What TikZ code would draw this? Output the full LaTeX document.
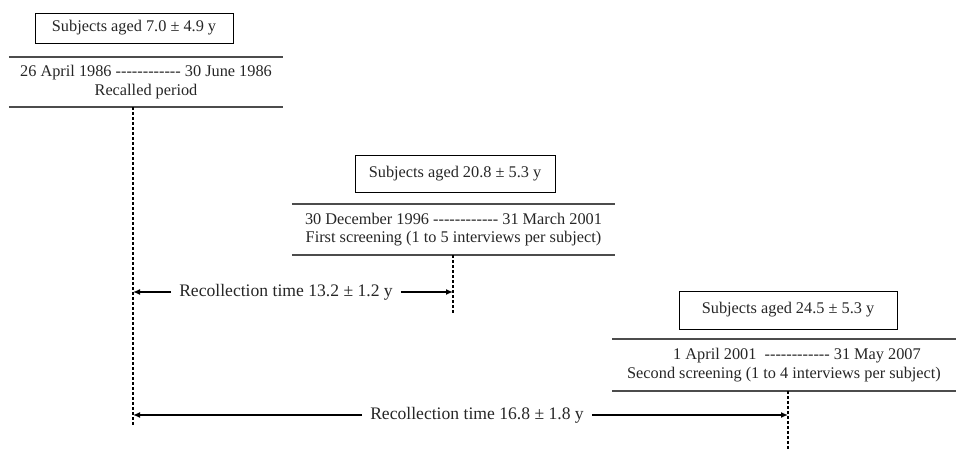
\documentclass[tikz,border=0pt]{standalone}
\usepackage{fontspec}
\setmainfont{Liberation Serif}
\usetikzlibrary{arrows.meta}
\newcommand{\dashrun}{\foreach \i in {1,...,12}{-\kern0pt}}
\begin{document}
\begin{tikzpicture}[x=1pt,y=-1pt,
    every node/.style={font=\fontsize{16.3}{18.5}\selectfont, text=black!85},
    agebox/.style={draw, line width=0.9pt, minimum height=30, inner sep=0},
    period/.style={align=center, minimum height=50, inner sep=0},
    rule/.style={line width=1.6pt, black!70},
    guide/.style={dash pattern=on 3pt off 2pt, line width=1.5pt},
    span/.style={-{Latex[length=7pt,width=6pt]}, line width=1.6pt},
    gaplabel/.style={font=\fontsize{17.6}{20}\selectfont, inner xsep=8, inner ysep=2}]
        \useasboundingbox (0,0) rectangle (956,454);

        % recalled period
        \node[agebox, minimum width=198] (age1) at (134,28) {Subjects aged 7.0 ± 4.9 y};
        \node[period, minimum width=274] (recall) at (146,82)
            {26 April 1986 \dashrun{} 30 June 1986\\Recalled period};
        \draw[rule] (recall.north west) -- (recall.north east);
        \draw[rule] (recall.south west) -- (recall.south east);
        \coordinate (t0) at (133,427);
        \draw[guide] (recall.south -| t0) -- (t0);

        % first screening
        \node[agebox, minimum width=200, minimum height=37] (age2) at (455,173.5) {Subjects aged 20.8 ± 5.3 y};
        \node[period, minimum width=323, minimum height=51] (first) at (453.5,229.5)
            {30 December 1996 \dashrun{} 31 March 2001\\First screening (1 to 5 interviews per subject)};
        \draw[rule] (first.north west) -- (first.north east);
        \draw[rule] (first.south west) -- (first.south east);
        \coordinate (t1) at (453,315);
        \draw[guide] (first.south -| t1) -- (t1);

        % second screening
        \node[agebox, minimum width=218, minimum height=38] (age3) at (788,310) {Subjects aged 24.5 ± 5.3 y};
        \node[period, minimum width=343, minimum height=52] (second) at (784,365)
            {\hspace*{26pt}1 April 2001\ \ \dashrun{} 31 May 2007\\Second screening (1 to 4 interviews per subject)};
        \draw[rule] (second.north west) -- (second.north east);
        \draw[rule] (second.south west) -- (second.south east);
        \coordinate (t2) at (788,450);
        \draw[guide] (second.south -| t2) -- (t2);

        % recollection times
        \node[gaplabel] (gap1) at (286,292) {Recollection time 13.2 ± 1.2 y};
        \draw[span] (gap1.west) -- (gap1.west -| t0);
        \draw[span] (gap1.east) -- (gap1.east -| t1);

        \node[gaplabel] (gap2) at (477,415) {Recollection time 16.8 ± 1.8 y};
        \draw[span] (gap2.west) -- (gap2.west -| t0);
        \draw[span] (gap2.east) -- (gap2.east -| t2);
\end{tikzpicture}
\end{document}
